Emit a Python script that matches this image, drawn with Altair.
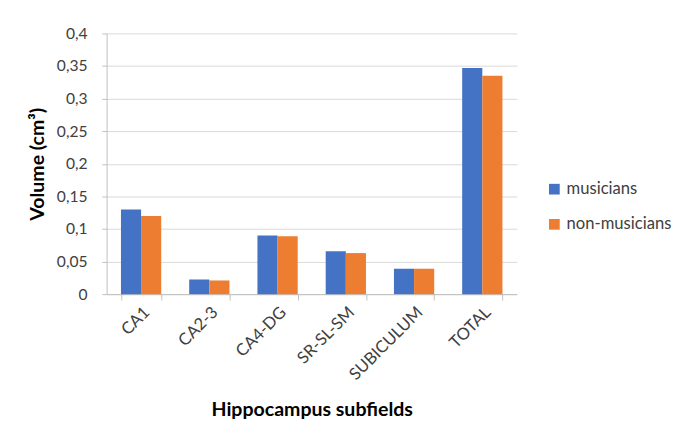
import altair as alt
import pandas as pd

categories = ["CA1", "CA2-3", "CA4-DG", "SR-SL-SM", "SUBICULUM", "TOTAL"]
musicians = [0.130, 0.0225, 0.090, 0.066, 0.039, 0.347]
non_musicians = [0.120, 0.021, 0.089, 0.063, 0.039, 0.335]
groups = ["musicians", "non-musicians"]

rows = []
for c, m, n in zip(categories, musicians, non_musicians):
    rows.append({"subfield": c, "group": groups[0], "volume": m})
    rows.append({"subfield": c, "group": groups[1], "volume": n})
df = pd.DataFrame(rows)

FONT = "Lato"
AXIS_GRAY = "#bfbfbf"

chart = alt.Chart(df).mark_bar().encode(
    x=alt.X("subfield:N", sort=categories,
            scale=alt.Scale(paddingInner=0.41, paddingOuter=0.21),
            axis=alt.Axis(title="Hippocampus subfields", labelAngle=-45,
                          tickBand="extent", tickSize=6, tickColor=AXIS_GRAY,
                          domainColor=AXIS_GRAY, labelFontSize=17, grid=False,
                          labelColor="#404040", labelPadding=4,
                          titleFontSize=20, titleFontWeight="bold",
                          titleColor="#000000", titlePadding=18)),
    xOffset=alt.XOffset("group:N", sort=groups),
    y=alt.Y("volume:Q", scale=alt.Scale(domain=[0, 0.4]),
            axis=alt.Axis(title="Volume (cm³)", values=[0, 0.05, 0.1, 0.15, 0.2, 0.25, 0.3, 0.35, 0.4],
                          labelExpr="replace(format(datum.value, '~g'), '.', ',')",
                          domain=True, domainColor=AXIS_GRAY,
                          tickSize=5, tickColor=AXIS_GRAY,
                          gridColor="#d9d9d9", labelFontSize=16,
                          labelColor="#404040", labelPadding=15,
                          titleFontSize=20, titleFontWeight="bold",
                          titleColor="#000000", titlePadding=9)),
    color=alt.Color("group:N", sort=groups,
                    scale=alt.Scale(domain=groups, range=["#4472C4", "#ED7D31"]),
                    legend=alt.Legend(title=None, orient="none", legendX=450, legendY=151,
                                      symbolType="square", symbolSize=120,
                                      symbolStrokeWidth=0, labelFontSize=17,
                                      labelColor="#404040", rowPadding=18)),
).properties(
    width=420, height=267,
    padding={"left": 20, "top": 13, "right": 2, "bottom": 2}
).configure(font=FONT).configure_view(stroke=None)

chart.save("out.html", embed_options={"renderer": "svg", "actions": False})
